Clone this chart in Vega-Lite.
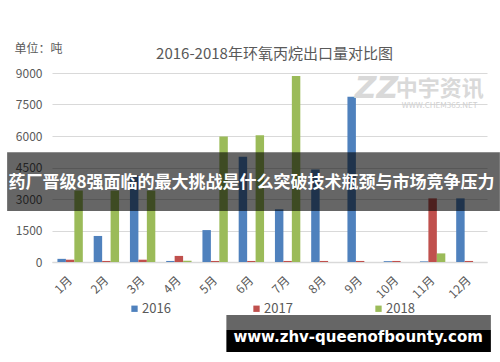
{
  "$schema": "https://vega.github.io/schema/vega-lite/v6.json",
  "autosize": {"type": "none"},
  "width": 435,
  "height": 189,
  "padding": {"left": 52, "top": 73, "right": 13, "bottom": 100},
  "background": "white",
  "title": {
    "text": "2016-2018年环氧丙烷出口量对比图",
    "font": "Noto Sans CJK SC",
    "fontSize": 15,
    "fontWeight": "normal",
    "color": "#595959",
    "anchor": "middle",
    "dx": 5,
    "offset": -20
  },
  "config": {
    "view": {"stroke": null},
    "font": "Noto Sans CJK SC"
  },
  "data": {
    "values": [
      {"month": "1月", "year": "2016", "value": 150},
      {"month": "2月", "year": "2016", "value": 1240},
      {"month": "3月", "year": "2016", "value": 4140},
      {"month": "4月", "year": "2016", "value": 50},
      {"month": "5月", "year": "2016", "value": 1520},
      {"month": "6月", "year": "2016", "value": 5010},
      {"month": "7月", "year": "2016", "value": 2510},
      {"month": "8月", "year": "2016", "value": 4410},
      {"month": "9月", "year": "2016", "value": 7870},
      {"month": "10月", "year": "2016", "value": 40},
      {"month": "11月", "year": "2016", "value": 30},
      {"month": "12月", "year": "2016", "value": 3030},
      {"month": "1月", "year": "2017", "value": 110},
      {"month": "2月", "year": "2017", "value": 50},
      {"month": "3月", "year": "2017", "value": 110},
      {"month": "4月", "year": "2017", "value": 290},
      {"month": "5月", "year": "2017", "value": 50},
      {"month": "6月", "year": "2017", "value": 50},
      {"month": "7月", "year": "2017", "value": 50},
      {"month": "8月", "year": "2017", "value": 50},
      {"month": "9月", "year": "2017", "value": 50},
      {"month": "10月", "year": "2017", "value": 50},
      {"month": "11月", "year": "2017", "value": 3030},
      {"month": "12月", "year": "2017", "value": 50},
      {"month": "1月", "year": "2018", "value": 3400},
      {"month": "2月", "year": "2018", "value": 3400},
      {"month": "3月", "year": "2018", "value": 3400},
      {"month": "4月", "year": "2018", "value": 60},
      {"month": "5月", "year": "2018", "value": 5980},
      {"month": "6月", "year": "2018", "value": 6040},
      {"month": "7月", "year": "2018", "value": 8860},
      {"month": "8月", "year": "2018", "value": 0},
      {"month": "9月", "year": "2018", "value": 0},
      {"month": "10月", "year": "2018", "value": 0},
      {"month": "11月", "year": "2018", "value": 410},
      {"month": "12月", "year": "2018", "value": 0}
    ]
  },
  "layer": [
    {
      "mark": {"type": "bar"},
      "encoding": {
        "x": {
          "field": "month",
          "type": "nominal",
          "sort": ["1月","2月","3月","4月","5月","6月","7月","8月","9月","10月","11月","12月"],
          "scale": {"paddingInner": 0.3, "paddingOuter": 0.15},
          "axis": {
            "title": null,
            "labelAngle": -45,
            "labelAlign": "right",
            "labelBaseline": "middle",
            "labelFontSize": 12,
            "labelColor": "#595959",
            "labelPadding": 16,
            "labelOverlap": false,
            "ticks": false,
            "domainColor": "#d9d9d9",
            "domainWidth": 1.5
          }
        },
        "xOffset": {"field": "year", "type": "nominal", "scale": {"paddingInner": 0}},
        "y": {
          "field": "value",
          "type": "quantitative",
          "scale": {"domain": [0, 9000], "nice": false},
          "axis": {
            "values": [0, 1500, 3000, 4500, 6000, 7500, 9000],
            "tickCount": 12,
            "format": "d",
            "labelOverlap": false,
            "title": "单位：吨",
            "titleAngle": 0,
            "titleX": -38,
            "titleY": -25,
            "titleAlign": "left",
            "titleBaseline": "middle",
            "titleFontSize": 12,
            "titleFontWeight": "normal",
            "titleColor": "#595959",
            "labelFontSize": 12,
            "labelColor": "#595959",
            "labelPadding": 10,
            "ticks": false,
            "domain": false,
            "gridColor": "#d9d9d9",
            "gridWidth": 1
          }
        },
        "color": {
          "field": "year",
          "type": "nominal",
          "scale": {"domain": ["2016", "2017", "2018"], "range": ["#4F81BD", "#C0504D", "#9BBB59"]},
          "legend": {
            "title": null,
            "orient": "none",
            "direction": "horizontal",
            "legendX": 76,
            "legendY": 229,
            "padding": 0,
            "symbolType": "square",
            "symbolSize": 40,
            "symbolStrokeWidth": 0,
            "labelFontSize": 13,
            "labelColor": "#595959",
            "labelOffset": 1,
            "columnPadding": 79
          }
        }
      }
    },
    {
      "data": {"values": [{}]},
      "mark": {"type": "text", "font": "DejaVu Sans", "fontSize": 30, "fontWeight": "bold", "fontStyle": "italic", "color": "#d9d9d9", "dx": -20, "baseline": "middle"},
      "encoding": {"x": {"datum": "10月"}, "y": {"datum": 8240}, "text": {"value": "ZZ"}}
    },
    {
      "data": {"values": [{}]},
      "mark": {"type": "text", "fontSize": 22, "fontWeight": "bold", "color": "#d9d9d9", "dx": 7, "baseline": "middle"},
      "encoding": {"x": {"datum": "11月"}, "y": {"datum": 8240}, "text": {"value": "中宇资讯"}}
    },
    {
      "data": {"values": [{}]},
      "mark": {"type": "text", "fontSize": 8, "color": "#d0d0d0", "dx": 7, "baseline": "middle"},
      "encoding": {"x": {"datum": "11月"}, "y": {"datum": 7430}, "text": {"value": "WWW.CHEM365.NET"}}
    },
    {
      "data": {"values": [{}]},
      "mark": {"type": "rect", "color": "black", "opacity": 0.6, "xOffset": -63, "x2Offset": 31},
      "encoding": {"x": {"datum": "1月"}, "x2": {"datum": "12月"}, "y": {"datum": 5230}, "y2": {"datum": 2430}}
    },
    {
      "data": {"values": [{}]},
      "mark": {"type": "text", "fontSize": 17, "fontWeight": "bold", "color": "white", "dx": -18, "baseline": "middle"},
      "encoding": {"y": {"datum": 3762}, "text": {"value": "药厂晋级8强面临的最大挑战是什么突破技术瓶颈与市场竞争压力"}}
    },
    {
      "data": {"values": [{}]},
      "mark": {"type": "rect", "color": "#666666", "xOffset": -25, "x2Offset": 22},
      "encoding": {"x": {"datum": "6月"}, "x2": {"datum": "12月"}, "y": {"datum": -2524}, "y2": {"datum": -3238}}
    },
    {
      "data": {"values": [{}]},
      "mark": {"type": "rect", "color": "black", "xOffset": -25, "x2Offset": 22},
      "encoding": {"x": {"datum": "6月"}, "x2": {"datum": "12月"}, "y": {"datum": -3238}, "y2": {"datum": -4286}}
    },
    {
      "data": {"values": [{}]},
      "mark": {"type": "text", "font": "DejaVu Sans", "fontSize": 15, "fontWeight": "bold", "color": "white", "dx": -2, "baseline": "middle"},
      "encoding": {"x": {"datum": "9月"}, "y": {"datum": -3571}, "text": {"value": "www.zhv-queenofbounty.com"}}
    }
  ]
}
